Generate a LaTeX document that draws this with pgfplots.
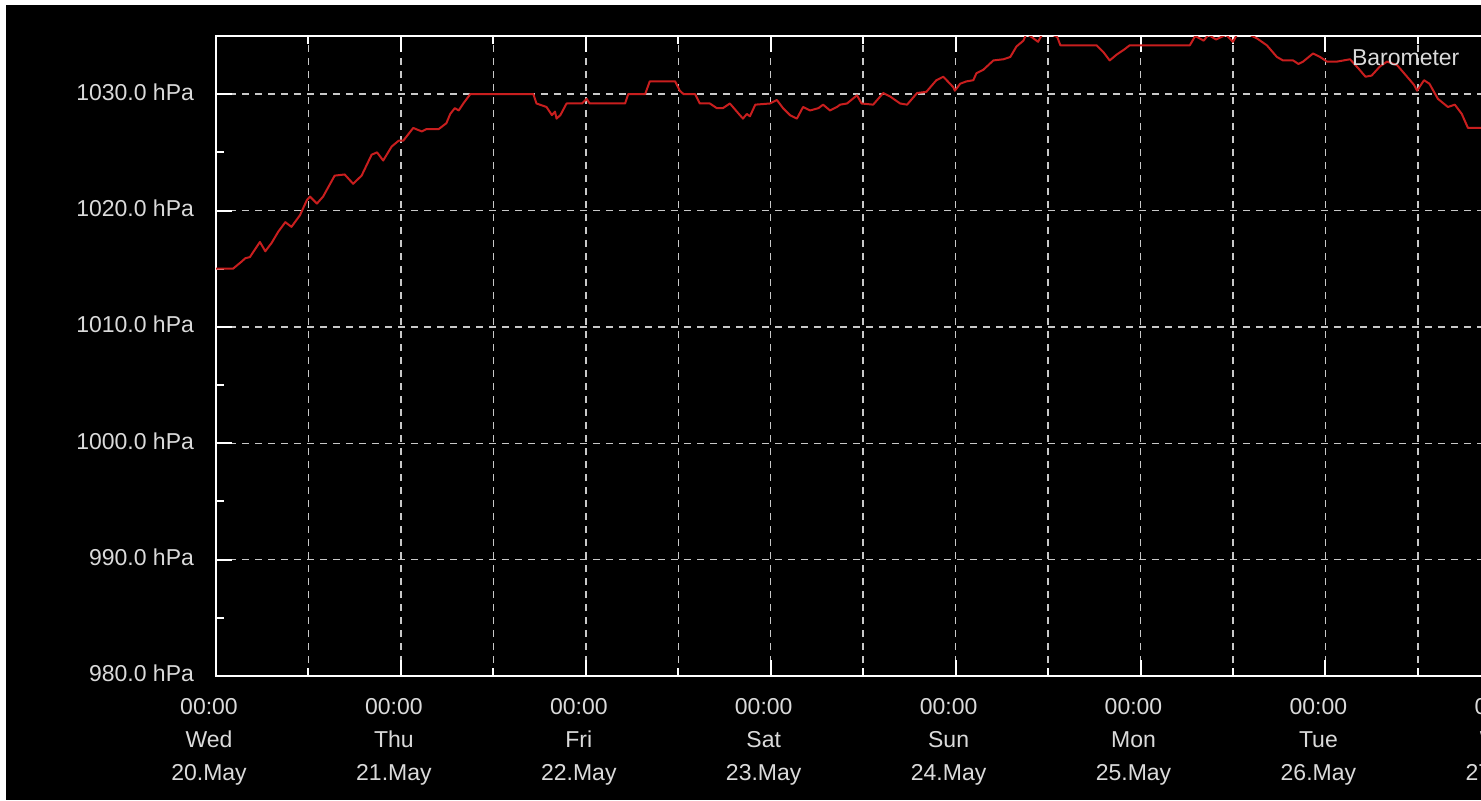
\documentclass[border=0pt]{standalone}
\usepackage{fontspec}
\setmainfont{Liberation Sans}
\usepackage{pgfplots}
\usepackage{pgfplotstable}
\pgfplotsset{compat=1.18}
\definecolor{gridgray}{RGB}{200,200,200}
\definecolor{txtgray}{RGB}{218,218,218}
\definecolor{barored}{RGB}{200,30,30}
% hours since Wed 20.May 00:00, pressure in hPa
\pgfplotstableread{
h p
0.0 1015.0
2.2 1015.0
3.3 1015.6
3.8 1015.9
4.4 1016.0
5.7 1017.3
6.4 1016.5
7.2 1017.2
8.1 1018.2
9.0 1019.0
9.8 1018.6
10.9 1019.6
11.8 1020.9
12.2 1021.2
13.1 1020.6
13.9 1021.2
15.4 1023.0
16.7 1023.1
17.8 1022.3
18.9 1023.0
20.2 1024.8
20.9 1025.0
21.7 1024.3
22.8 1025.5
23.7 1026.0
24.3 1026.0
25.6 1027.1
26.7 1026.8
27.3 1027.0
28.9 1027.0
29.9 1027.5
30.4 1028.3
31.0 1028.8
31.5 1028.6
32.1 1029.2
33.0 1030.0
41.2 1030.0
41.6 1029.2
42.9 1028.9
43.6 1028.2
44.0 1028.5
44.2 1027.9
44.7 1028.2
45.5 1029.2
47.5 1029.2
48.1 1029.6
48.5 1029.2
53.1 1029.2
53.5 1030.0
55.7 1030.0
56.3 1031.1
59.6 1031.1
60.2 1030.3
60.7 1030.0
62.2 1030.0
62.8 1029.2
64.1 1029.2
65.0 1028.8
65.8 1028.8
66.7 1029.2
68.0 1028.2
68.4 1027.9
68.9 1028.3
69.3 1028.1
70.0 1029.1
71.9 1029.2
72.8 1029.5
73.6 1028.8
74.5 1028.2
75.4 1027.9
76.2 1028.9
77.1 1028.6
78.2 1028.8
78.8 1029.1
79.7 1028.6
80.6 1028.9
81.0 1029.1
81.9 1029.2
83.2 1029.9
83.8 1029.2
85.3 1029.1
86.6 1030.1
87.5 1029.8
88.8 1029.2
89.7 1029.1
91.0 1030.1
92.2 1030.2
93.5 1031.2
94.4 1031.5
95.7 1030.6
95.9 1030.3
96.6 1030.9
97.4 1031.1
98.3 1031.2
98.7 1031.8
99.6 1032.1
100.9 1032.9
102.2 1033.0
103.1 1033.2
103.9 1034.1
104.8 1034.6
105.2 1035.2
106.1 1034.8
106.7 1034.5
107.2 1035.1
108.3 1035.2
109.2 1034.9
109.6 1034.2
114.3 1034.2
115.2 1033.6
116.0 1032.9
116.9 1033.4
117.8 1033.8
118.6 1034.2
126.4 1034.2
127.1 1035.0
128.2 1034.6
128.8 1035.1
129.8 1034.7
131.1 1035.1
132.0 1034.5
132.5 1035.1
134.2 1035.1
135.1 1034.8
136.4 1034.2
137.7 1033.2
138.5 1032.9
139.8 1032.9
140.5 1032.6
141.1 1032.8
142.4 1033.5
143.3 1033.2
144.2 1032.8
145.5 1032.8
147.2 1033.0
148.3 1032.2
149.2 1031.5
150.0 1031.6
151.1 1032.4
152.0 1032.8
153.3 1032.5
154.6 1031.5
155.5 1030.8
155.9 1030.3
156.8 1031.2
157.5 1030.9
158.6 1029.6
159.9 1028.9
160.8 1029.1
161.7 1028.3
162.5 1027.1
164.2 1027.1
166.0 1027.1
}\baro
\begin{document}
\begin{tikzpicture}
\fill[black] (0,0) rectangle (740.5pt,400pt);
\fill[white] (0,0) rectangle (3pt,400pt);
\fill[white] (0,397.5pt) rectangle (740.5pt,400pt);
\begin{axis}[
  at={(108pt,62pt)}, anchor=south west,
  scale only axis, width=647.15pt, height=320pt,
  xmin=0, xmax=168, ymin=980, ymax=1035,
  axis line style={white, line width=1pt},
  xtick={0,24,48,72,96,120,144,168},
  minor xtick={12,36,60,84,108,132,156},
  xticklabels={{00:00\\Wed\\20.May},{00:00\\Thu\\21.May},{00:00\\Fri\\22.May},{00:00\\Sat\\23.May},{00:00\\Sun\\24.May},{00:00\\Mon\\25.May},{00:00\\Tue\\26.May},{00:00\\Wed\\27.May}},
  ytick={980,990,1000,1010,1020,1030},
  minor ytick={985,995,1005,1015,1025,1035},
  yticklabels={980.0 hPa,990.0 hPa,1000.0 hPa,1010.0 hPa,1020.0 hPa,1030.0 hPa},
  tick align=inside,
  major tick length=8pt, minor tick length=4pt,
  every tick/.style={white, line width=1pt},
  minor tick style={white, line width=1pt},
  xmajorgrids, xminorgrids, ymajorgrids,
  major grid style={gridgray, line width=0.75pt, dash pattern=on 3.5pt off 3pt},
  minor grid style={gridgray, line width=0.75pt, dash pattern=on 3.5pt off 3pt},
  ticklabel style={font=\fontsize{11.5}{16.5}\selectfont, text=txtgray},
  xticklabel style={align=center, yshift=-7.5pt, xshift=-3.5pt},
  yticklabel style={xshift=-7.5pt, yshift=1.2pt},
]
\addplot[barored, line width=1pt, line join=round] table[x=h, y=p] {\baro};
\node[anchor=west, inner sep=0pt, text=txtgray, font=\fontsize{11.5}{14}\selectfont] at (axis cs:147.4,1033.1) {Barometer};
\end{axis}
\pgfresetboundingbox
\useasboundingbox (0,0) rectangle (740.5pt,400pt);
\end{tikzpicture}
\end{document}
